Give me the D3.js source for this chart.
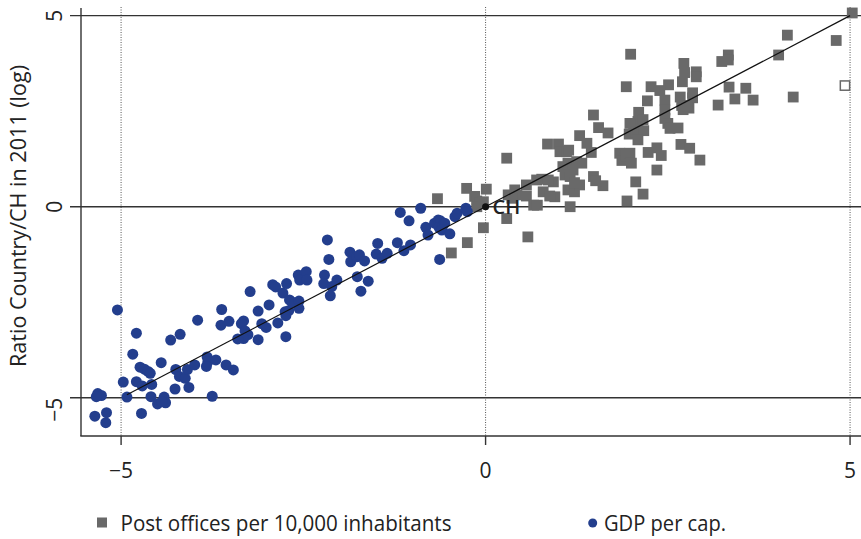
<!DOCTYPE html>
<html><head><meta charset="utf-8">
<script src="https://cdn.jsdelivr.net/npm/d3@7"></script>
<style>
body{margin:0;background:#fff}
svg{display:block}
text{font-family:"Open Sans",sans-serif;fill:#222}
</style>
</head><body>
<script>
// ---- data (log ratio country / CH, 2011) ----
const postX = [5.03,4.14,4.81,4.02,1.99,3.33,3.24,3.33,2.72,2.73,2.70,2.89,2.89,1.93,2.27,2.51,2.39,2.46,2.46,2.22,2.84,2.84,2.79,2.67,2.69,2.71,2.76,3.34,3.57,3.42,3.67,3.19,4.22,1.48,1.55,1.68,1.29,1.39,1.45,2.10,2.03,2.09,2.16,1.98,1.97,2.06,2.17,2.09,2.46,2.50,2.53,2.64,2.68,2.80,2.94,1.00,1.02,1.11,1.14,0.85,1.84,1.87,1.93,1.98,2.00,2.23,2.35,2.41,2.35,2.06,2.16,1.94,1.06,1.13,1.25,1.32,1.20,1.09,1.16,1.48,1.61,1.51,0.93,0.95,1.13,1.22,1.29,1.22,1.16,0.29,-0.26,-0.15,-0.12,-0.08,-0.12,0.01,-0.66,0.29,-0.03,-0.25,-0.47,0.31,0.40,0.43,0.36,0.56,0.56,0.66,0.71,0.70,0.58,0.77,0.86,0.79,0.88,-0.03];
const postY = [5.07,4.49,4.35,3.97,3.99,3.97,3.80,3.84,3.75,3.51,3.27,3.53,3.40,3.14,3.14,3.19,3.04,2.79,2.53,2.77,2.98,2.85,2.58,2.87,2.65,2.54,2.62,3.13,3.10,2.82,2.79,2.66,2.87,2.40,2.07,1.93,1.86,1.66,1.42,2.47,2.16,2.23,2.28,2.18,1.90,1.96,1.99,1.75,2.31,2.18,2.05,2.06,1.63,1.53,1.22,1.64,1.44,1.44,1.48,1.64,1.40,1.21,1.33,1.40,1.14,1.42,1.54,1.34,0.96,0.65,0.33,0.15,1.05,1.14,1.18,1.14,0.96,0.83,0.79,0.79,0.55,0.68,0.65,0.26,0.44,0.39,0.57,0.63,0.00,1.27,0.48,0.27,0.15,0.09,0.00,0.46,0.21,-0.31,-0.55,-0.94,-1.21,0.31,0.44,0.31,0.22,0.57,0.28,0.04,0.04,0.70,-0.79,0.72,0.70,0.39,0.28,0.13];
const postHollowX = [4.93];
const postHollowY = [3.17];
const gdpX = [-5.05,-4.79,-4.84,-4.97,-4.92,-5.32,-5.27,-5.34,-5.36,-5.20,-5.21,-4.72,-4.79,-4.71,-4.74,-4.68,-4.63,-4.60,-4.58,-4.45,-4.59,-4.50,-4.41,-4.39,-4.44,-4.26,-4.32,-4.19,-4.25,-4.20,-4.12,-4.07,-4.09,-3.99,-3.95,-3.82,-3.81,-3.83,-3.70,-3.75,-3.56,-3.46,-3.62,-3.63,-3.52,-3.32,-3.35,-3.30,-3.26,-3.32,-3.40,-3.12,-3.12,-3.23,-3.07,-3.01,-2.97,-2.92,-2.88,-2.85,-2.78,-2.73,-2.74,-2.75,-2.70,-2.74,-2.69,-2.66,-2.56,-2.56,-2.57,-2.55,-2.46,-2.45,-2.21,-2.22,-2.04,-2.11,-2.13,-2.17,-2.15,-1.86,-1.85,-1.77,-1.73,-1.66,-1.76,-1.61,-1.71,-1.48,-1.50,-1.42,-1.35,-1.21,-1.17,-1.12,-1.03,-1.05,-0.89,-0.82,-0.79,-0.70,-0.65,-0.62,-0.64,-0.59,-0.56,-0.60,-0.49,-0.63,-0.42,-0.39,-0.27,-0.25];
const gdpY = [-2.70,-3.31,-3.86,-4.59,-4.98,-4.89,-4.94,-4.97,-5.48,-5.39,-5.65,-5.41,-4.58,-4.69,-4.20,-4.25,-4.31,-4.36,-4.65,-4.08,-4.97,-5.16,-4.98,-5.13,-5.10,-4.77,-3.49,-3.34,-4.26,-4.44,-4.49,-4.73,-4.26,-4.14,-2.97,-3.93,-4.06,-4.18,-4.01,-4.96,-4.14,-4.27,-2.69,-3.10,-3.00,-2.99,-3.06,-3.25,-3.35,-3.45,-3.46,-3.48,-2.73,-2.22,-3.06,-3.16,-2.57,-2.04,-2.10,-3.04,-2.26,-2.01,-3.40,-2.75,-2.72,-2.85,-2.44,-2.49,-2.47,-2.66,-1.79,-1.92,-1.70,-1.92,-1.79,-2.01,-1.92,-2.09,-2.33,-0.87,-1.38,-1.19,-1.44,-1.31,-1.26,-1.42,-1.83,-1.95,-2.21,-0.96,-1.24,-1.35,-1.22,-0.94,-0.15,-1.15,-1.00,-0.37,-0.04,-0.54,-0.74,-0.43,-0.35,-0.37,-0.54,-0.51,-0.43,-0.61,-0.71,-1.38,-0.26,-0.17,-0.04,-0.13];
const refPoint = [0, 0];
const refName = "CH";
const diagEnds = [-4.92, 5.0];
const xTicks = [-5, 0, 5];
const yTicks = [-5, 0, 5];
const seriesNames = ["Post offices per 10,000 inhabitants", "GDP per cap."];
const yTitle = "Ratio Country/CH in 2011 (log)";

// ---- drawing ----
const W = 861, H = 539;
const grayCol = "#696969", blueCol = "#233e8d", lineCol = "#333";
const x = d3.scaleLinear().domain([-5.55, 5.15]).range([81, 861]);
const y = d3.scaleLinear().domain([-6.0, 5.2]).range([436, 8]);
const fmt = v => v < 0 ? "\u2212" + Math.abs(v) : String(v);

const svg = d3.select("body").append("svg").attr("width", W).attr("height", H);

// dotted vertical reference lines
svg.append("g").selectAll("line").data(xTicks).join("line")
  .attr("x1", d => x(d)).attr("x2", d => x(d))
  .attr("y1", y.range()[1] - 1).attr("y2", y.range()[0])
  .attr("stroke", "#555").attr("stroke-width", 1).attr("stroke-dasharray", "1,1.5");

// horizontal grid lines (extend as ticks)
svg.append("g").selectAll("line").data(yTicks).join("line")
  .attr("x1", 70).attr("x2", W)
  .attr("y1", d => y(d)).attr("y2", d => y(d))
  .attr("stroke", lineCol).attr("stroke-width", 1.4);

// axes lines
svg.append("line").attr("x1", 81).attr("x2", 81).attr("y1", 8).attr("y2", 436)
  .attr("stroke", lineCol).attr("stroke-width", 1.4);
svg.append("line").attr("x1", 80.3).attr("x2", W).attr("y1", 436).attr("y2", 436)
  .attr("stroke", lineCol).attr("stroke-width", 1.4);

// x ticks + labels
const xt = svg.append("g").selectAll("g").data(xTicks).join("g")
  .attr("transform", d => `translate(${x(d)},436)`);
xt.append("line").attr("y1", 0).attr("y2", 9).attr("stroke", lineCol).attr("stroke-width", 1.4);
xt.append("text").attr("y", 42).attr("text-anchor", "middle")
  .attr("font-size", 21).text(d => fmt(d));

// y labels (rotated)
svg.append("g").selectAll("text").data(yTicks).join("text")
  .attr("transform", d => `translate(61.5,${y(d) + (d < 0 ? 12 : 0)}) rotate(-90)`)
  .attr("text-anchor", "middle").attr("font-size", 21).text(d => fmt(d));

// y title
svg.append("text")
  .attr("transform", "translate(25.5,216) rotate(-90)")
  .attr("text-anchor", "middle").attr("font-size", 21.5)
  .attr("textLength", 302).attr("lengthAdjust", "spacingAndGlyphs")
  .text(yTitle);

// points
const sq = 10.8;
const post = postX.map((v, i) => [v, postY[i]]);
const gdp = gdpX.map((v, i) => [v, gdpY[i]]);
svg.append("g").selectAll("rect").data(post).join("rect")
  .attr("x", d => x(d[0]) - sq / 2).attr("y", d => y(d[1]) - sq / 2)
  .attr("width", sq).attr("height", sq).attr("fill", grayCol);
svg.append("g").selectAll("rect").data(postHollowX.map((v, i) => [v, postHollowY[i]])).join("rect")
  .attr("x", d => x(d[0]) - sq / 2 + 0.75).attr("y", d => y(d[1]) - sq / 2 + 0.75)
  .attr("width", sq - 1.5).attr("height", sq - 1.5)
  .attr("fill", "#fff").attr("stroke", grayCol).attr("stroke-width", 1.5);
svg.append("g").selectAll("circle").data(gdp).join("circle")
  .attr("cx", d => x(d[0])).attr("cy", d => y(d[1])).attr("r", 5.5).attr("fill", blueCol);

// 45-degree line
svg.append("path")
  .attr("d", d3.line().x(d => x(d)).y(d => y(d))(diagEnds))
  .attr("stroke", "#111").attr("stroke-width", 1.2).attr("fill", "none");

// reference point CH
svg.append("circle").attr("cx", x(refPoint[0])).attr("cy", y(refPoint[1])).attr("r", 3.5).attr("fill", "#111");
svg.append("text").attr("x", x(refPoint[0]) + 7).attr("y", y(refPoint[1]) + 7.5)
  .attr("font-size", 20).attr("font-weight", 600).attr("fill", "#111").text(refName);

// legend
const lg = svg.append("g");
lg.append("rect").attr("x", 97).attr("y", 517.5).attr("width", 10).attr("height", 10).attr("fill", grayCol);
lg.append("text").attr("x", 120.5).attr("y", 530.5).attr("font-size", 21.5)
  .attr("textLength", 331).attr("lengthAdjust", "spacingAndGlyphs").text(seriesNames[0]);
lg.append("circle").attr("cx", 592.7).attr("cy", 523).attr("r", 4.5).attr("fill", blueCol);
lg.append("text").attr("x", 604).attr("y", 530.5).attr("font-size", 21.5)
  .attr("textLength", 122).attr("lengthAdjust", "spacingAndGlyphs").text(seriesNames[1]);
</script>
</body></html>
